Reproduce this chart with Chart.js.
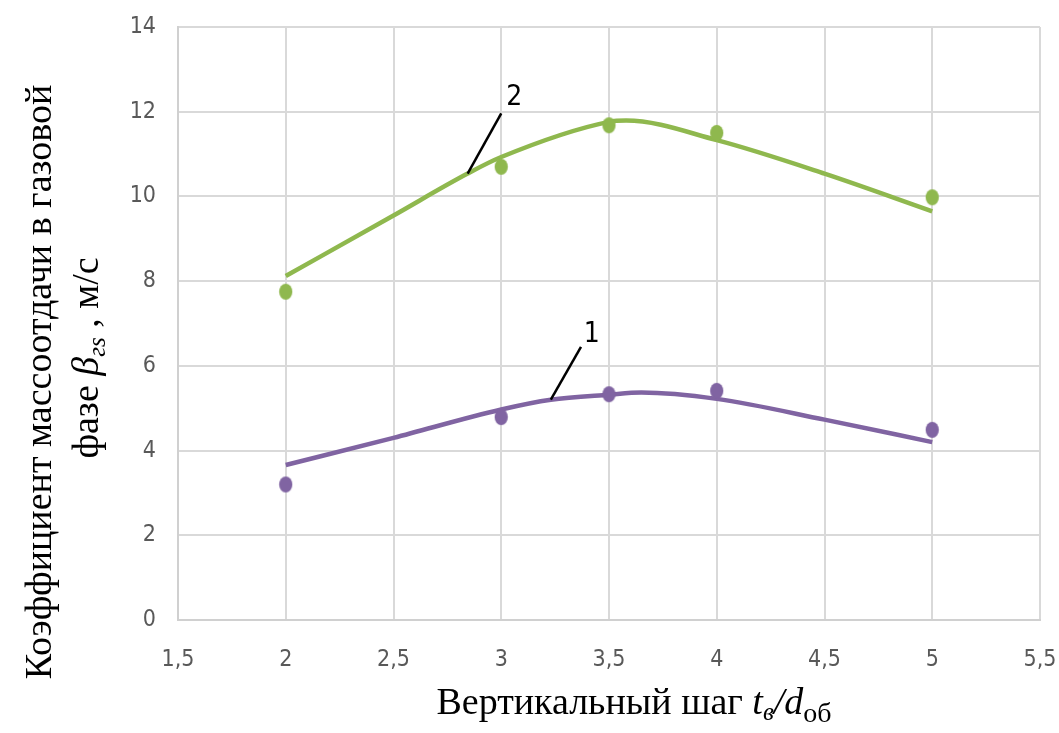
<!DOCTYPE html>
<html><head><meta charset="utf-8">
<script src="https://cdn.jsdelivr.net/npm/chart.js@4/dist/chart.umd.min.js"></script>
<style>html,body{margin:0;padding:0;background:#fff}#wrap{width:1059px;height:733px}</style>
</head><body><div id="wrap"><canvas id="c" width="1059" height="733"></canvas></div>
<script>
// measured points
const xPoints = [2, 3, 3.5, 4, 5];
const series2Points = [7.75, 10.70, 11.68, 11.50, 9.98];
const series1Points = [3.20, 4.79, 5.33, 5.41, 4.49];
// trend curves
const curve2X = [2, 2.5, 2.844, 3, 3.5, 3.58, 4, 4.5, 5];
const curve2Y = [8.12, 9.55, 10.54, 10.93, 11.76, 11.79, 11.33, 10.54, 9.65];
const curve1X = [2, 2.5, 3, 3.23, 3.5, 3.65, 4, 4.5, 5];
const curve1Y = [3.66, 4.30, 4.97, 5.20, 5.32, 5.37, 5.22, 4.73, 4.20];
// leader lines and labels
const leader2X = [2.844, 3.0], leader2Y = [10.54, 11.96];
const leader1X = [3.23, 3.37], leader1Y = [5.20, 6.45];
const labelTexts = ["2", "1"];
const labelX = [3.06, 3.42], labelY = [12.32, 6.73];
// axes
const xMin = 1.5, xMax = 5.5, xStep = 0.5;
const yMin = 0, yMax = 14, yStep = 2;

const GREEN = '#8fb84e', PURPLE = '#8064a2';
const tickFont = '"DejaVu Sans Condensed", "Liberation Sans Narrow", "Liberation Sans", sans-serif';
const serif = '"Liberation Serif", "DejaVu Serif", serif';

function ellipse(color) {
  const c = document.createElement('canvas');
  c.width = 15; c.height = 18;
  const g = c.getContext('2d');
  g.fillStyle = color;
  g.beginPath(); g.ellipse(7.5, 9, 6.6, 8, 0, 0, Math.PI * 2); g.fill();
  return c;
}
const zip = (a, b) => a.map((v, i) => ({x: v, y: b[i]}));

const textPlugin = {
  id: 'texts',
  afterDraw(chart) {
    const ctx = chart.ctx, xs = chart.scales.x, ys = chart.scales.y;
    ctx.save();
    ctx.fillStyle = '#000';
    ctx.font = '28px ' + tickFont;
    ctx.textAlign = 'center'; ctx.textBaseline = 'middle';
    labelTexts.forEach((t, i) => ctx.fillText(t, xs.getPixelForValue(labelX[i]), ys.getPixelForValue(labelY[i])));

    function runs(parts, cx, cy) {
      let w = 0;
      parts.forEach(p => { ctx.font = p.f; p.w = ctx.measureText(p.t).width; w += p.w; });
      let x = cx - w / 2;
      ctx.textAlign = 'left'; ctx.textBaseline = 'alphabetic';
      parts.forEach(p => { ctx.font = p.f; ctx.fillText(p.t, x, cy + (p.dy || 0)); x += p.w; });
    }
    ctx.fillStyle = '#000';
    runs([
      {t: 'Вертикальный шаг ', f: '38px ' + serif},
      {t: 't', f: 'italic 38px ' + serif},
      {t: 'в', f: 'italic 25px ' + serif, dy: 6},
      {t: '/', f: 'italic 38px ' + serif},
      {t: 'd', f: 'italic 38px ' + serif},
      {t: 'об', f: '28px ' + serif, dy: 8}
    ], 634, 714);
    ctx.save();
    ctx.translate(51, 382); ctx.rotate(-Math.PI / 2);
    runs([{t: 'Коэффициент массоотдачи в газовой', f: '38px ' + serif}], 0, 0);
    ctx.restore();
    ctx.save();
    ctx.translate(98, 358); ctx.rotate(-Math.PI / 2);
    runs([
      {t: 'фазе ', f: '38px ' + serif},
      {t: 'β', f: 'italic 38px ' + serif},
      {t: 'гs', f: 'italic 25px ' + serif, dy: 7},
      {t: ' , м/с', f: '38px ' + serif}
    ], 0, 0);
    ctx.restore();
    ctx.restore();
  }
};

new Chart(document.getElementById('c'), {
  type: 'scatter',
  data: {
    datasets: [
      {data: zip(curve2X, curve2Y), showLine: true, borderColor: GREEN, borderWidth: 4.5, pointRadius: 0, cubicInterpolationMode: 'monotone', order: 2},
      {data: zip(curve1X, curve1Y), showLine: true, borderColor: PURPLE, borderWidth: 4.5, pointRadius: 0, cubicInterpolationMode: 'monotone', order: 2},
      {data: zip(xPoints, series2Points), pointStyle: ellipse(GREEN), backgroundColor: GREEN, order: 1},
      {data: zip(xPoints, series1Points), pointStyle: ellipse(PURPLE), backgroundColor: PURPLE, order: 1},
      {data: zip(leader2X, leader2Y), showLine: true, borderColor: '#000', borderWidth: 2.5, pointRadius: 0, order: 0},
      {data: zip(leader1X, leader1Y), showLine: true, borderColor: '#000', borderWidth: 2.5, pointRadius: 0, order: 0}
    ]
  },
  options: {
    responsive: false, animation: false, devicePixelRatio: 1,
    layout: {padding: {left: 0, top: 27, right: 19, bottom: 0}},
    plugins: {legend: {display: false}, tooltip: {enabled: false}},
    scales: {
      x: {
        type: 'linear', min: xMin, max: xMax,
        afterFit(s) { s.height = 113; s.paddingLeft = 0; s.paddingRight = 0; },
        border: {color: '#d0d0d0', width: 2},
        grid: {color: '#d9d9d9', lineWidth: 2, drawTicks: false},
        ticks: {stepSize: xStep, padding: 26, color: '#595959', font: {family: tickFont, size: 23},
          callback: v => String(v).replace('.', ',')}
      },
      y: {
        type: 'linear', min: yMin, max: yMax,
        afterFit(s) { s.width = 178; s.paddingTop = 0; s.paddingBottom = 0; },
        border: {color: '#d0d0d0', width: 2},
        grid: {color: '#d9d9d9', lineWidth: 2, drawTicks: false},
        ticks: {stepSize: yStep, padding: 22, color: '#595959', font: {family: tickFont, size: 23}}
      }
    }
  },
  plugins: [textPlugin]
});
</script></body></html>
